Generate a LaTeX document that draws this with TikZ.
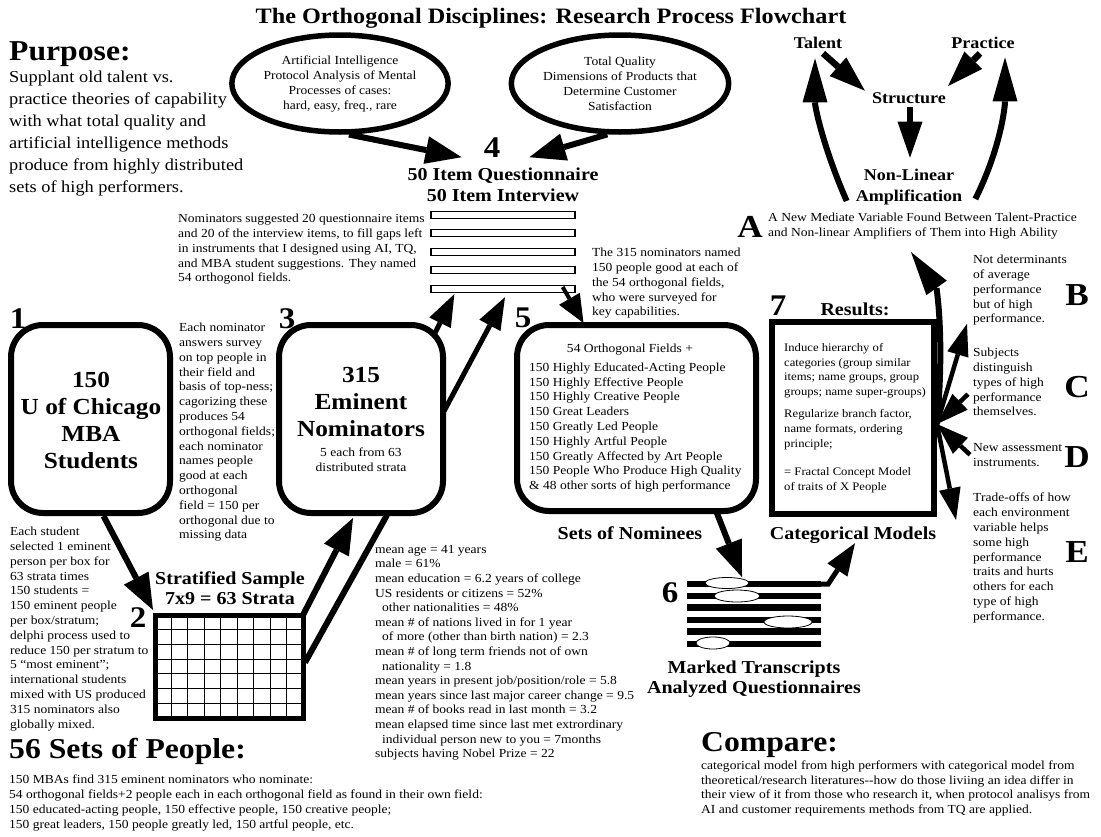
\documentclass[tikz,border=0pt]{standalone}
\usepackage{fontspec}
\setmainfont{Liberation Serif}[FakeStretch=1.1]
\usepackage{tikz}
\usetikzlibrary{shapes.geometric, arrows.meta, positioning, calc}
\tikzset{
  bodytxt/.style={inner sep=0pt, align=left, anchor=north west, font=\fontsize{12.3}{14.8}\selectfont},
  purposetxt/.style={inner sep=0pt, align=left, anchor=north west, font=\fontsize{16.7}{22}\selectfont},
  bighead/.style={inner sep=0pt, anchor=base west, font=\fontsize{28.8}{30}\selectfont\bfseries},
  sechead/.style={inner sep=0pt, align=center, anchor=north, font=\fontsize{18.2}{20.5}\selectfont\bfseries},
  stepnum/.style={inner sep=0pt, anchor=base, font=\fontsize{30}{30}\selectfont\bfseries},
  lettertag/.style={inner sep=0pt, anchor=base, font=\fontsize{32}{32}\selectfont\bfseries},
  boxtitle/.style={inner sep=0pt, align=center, anchor=north, font=\fontsize{23}{27}\selectfont\bfseries},
  modelword/.style={inner sep=0pt, anchor=base, font=\fontsize{16.4}{21}\selectfont\bfseries},
  roundbox/.style={draw, line width=6pt, rounded corners=32pt, inner sep=0pt},
  oval/.style={ellipse, draw, line width=5.5pt, minimum width=206pt, minimum height=97pt, inner sep=0pt, align=center, font=\fontsize{12.3}{15}\selectfont},
  qbar/.style={draw, line width=1.3pt, minimum width=144pt, minimum height=7pt, inner sep=0pt},
  stripe/.style={fill=black, minimum width=134pt, minimum height=6.5pt, inner sep=0pt},
  blob/.style={ellipse, draw, fill=white, line width=0.8pt, inner sep=0pt},
}

\begin{document}
\begin{tikzpicture}[x=1pt, y=-1pt,
  fatarrow/.style={line width=6pt, -{Triangle[length=36pt, width=28pt, line width=0pt]}},
  midarrow/.style={line width=5pt, -{Triangle[length=32pt, width=24pt, line width=0pt]}},
  slimarrow/.style={line width=4pt, -{Triangle[length=28pt, width=24pt, line width=0pt]}},
  shortarrow/.style={line width=6.5pt, -{Triangle[length=36pt, width=25pt, line width=0pt]}},
  curvearrow/.style={line width=6pt, -{Triangle[length=44pt, width=25pt, line width=0pt]}},
  rayarrow/.style={line width=4.5pt, -{Triangle[length=32pt, width=22pt, line width=0pt]}}]
\useasboundingbox (0,0) rectangle (1101,836);

\node[inner sep=0pt, anchor=base, font=\fontsize{22}{24}\selectfont\bfseries] (title) at (551,23) {The Orthogonal Disciplines: Research Process Flowchart};
\node[bighead] (purpose) at (9,60) {Purpose:};
\node[purposetxt] (purposenote) at (9,71) {Supplant old talent vs.\\practice theories of capability\\with what total quality and\\artificial intelligence methods\\produce from highly distributed\\sets of high performers.};

\node[oval] (ai) at (340,83.5) {Artificial Intelligence\\Protocol Analysis of Mental\\Processes of cases:\\hard, easy, freq., rare};
\node[oval] (tq) at (620,83.5) {Total Quality\\Dimensions of Products that\\Determine Customer\\Satisfaction};

\node[stepnum] (n4) at (492,157) {4};
\node[sechead] (qhead) at (503,168) {50 Item Questionnaire\\50 Item Interview};
\foreach \i/\y in {1/215, 2/233, 3/252, 4/270, 5/289}
  \node[qbar] (bar\i) at (503,\y) {};
\node[bodytxt] (nomnote) at (178,214) {Nominators suggested 20 questionnaire items\\and 20 of the interview items, to fill gaps left\\in instruments that I designed using AI, TQ,\\and MBA student suggestions. They named\\54 orthogonol fields.};

\node[stepnum] (n1) at (18,328) {1};
\node[roundbox, minimum width=159pt, minimum height=188pt] (box1) at (90.5,419) {};
\node[boxtitle] (box1txt) at (91,372) {150\\U of Chicago\\MBA\\Students};
\node[bodytxt] (studnote) at (10,527) {Each student\\selected 1 eminent\\person per box for\\63 strata times\\150 students =\\150 eminent people\\per box/stratum;\\delphi process used to\\reduce 150 per stratum to\\5 “most eminent”;\\international students\\mixed with US produced\\315 nominators also\\globally mixed.};

\node[stepnum] (n2) at (138,627) {2};
\node[sechead] (strat) at (230,571) {Stratified Sample\\7x9 = 63 Strata};
\node[draw, line width=5pt, outer sep=0pt, inner sep=0pt, minimum width=148pt, minimum height=103pt] (grid) at (229,666.5) {};
\foreach \i in {1,...,8}
  \draw[line width=1.2pt] ($(grid.north west)!\i/9!(grid.north east)$) -- ($(grid.south west)!\i/9!(grid.south east)$);
\foreach \j in {1,...,6}
  \draw[line width=1.2pt] ($(grid.north west)!\j/7!(grid.south west)$) -- ($(grid.north east)!\j/7!(grid.south east)$);

\node[stepnum] (n3) at (287,328) {3};
\node[roundbox, minimum width=164pt, minimum height=188pt] (box3) at (361,419) {};
\node[boxtitle] (box3txt) at (361,367) {315\\Eminent\\Nominators};
\node[bodytxt, anchor=north, align=center, below=11pt of box3txt] (box3sub) {5 each from 63\\distributed strata};
\node[bodytxt] (surveynote) at (179,323) {Each nominator\\answers survey\\on top people in\\their field and\\basis of top-ness;\\cagorizing these\\produces 54\\orthogonal fields;\\each nominator\\names people\\good at each\\orthogonal\\field = 150 per\\orthogonal due to\\missing data};
\node[bodytxt, font=\fontsize{12.3}{14.6}\selectfont] (stats) at (375,545) {mean age = 41 years\\male = 61\%\\mean education = 6.2 years of college\\US residents or citizens = 52\%\\\hspace*{7pt}other nationalities = 48\%\\mean \# of nations lived in for 1 year\\\hspace*{7pt}of more (other than birth nation) = 2.3\\mean \# of long term friends not of own\\\hspace*{7pt}nationality = 1.8\\mean years in present job/position/role = 5.8\\mean years since last major career change = 9.5\\mean \# of books read in last month = 3.2\\mean elapsed time since last met extrordinary\\\hspace*{7pt}individual person new to you = 7months\\subjects having Nobel Prize = 22};

\node[stepnum] (n5) at (523,327) {5};
\node[roundbox, minimum width=239pt, minimum height=186pt] (box5) at (636.5,418) {};
\node[inner sep=0pt, anchor=base, font=\fontsize{12.3}{14.8}\selectfont] (fields) at (630,352) {54 Orthogonal Fields +};
\node[bodytxt] (fieldlist) at (529,362.5) {150 Highly Educated-Acting People\\150 Highly Effective People\\150 Highly Creative People\\150 Great Leaders\\150 Greatly Led People\\150 Highly Artful People\\150 Greatly Affected by Art People\\150 People Who Produce High Quality\\\& 48 other sorts of high performance};
\node[sechead, anchor=base] (nominees) at (630,539) {Sets of Nominees};
\node[bodytxt] (namednote) at (592,248) {The 315 nominators named\\150 people good at each of\\the 54 orthogonal fields,\\who were surveyed for\\key capabilities.};

\node[stepnum] (n6) at (670,602) {6};
\foreach \i/\y in {1/584, 2/596, 3/607.5, 4/620, 5/631.5, 6/644}
  \node[stripe] (st\i) at (754,\y) {};
\node[blob, minimum width=44pt, minimum height=11pt] (tr1) at (727,583) {};
\node[blob, minimum width=46pt, minimum height=12pt] (tr2) at (737,596) {};
\node[blob, minimum width=48pt, minimum height=12pt] (tr3) at (788,622) {};
\node[blob, minimum width=34pt, minimum height=12pt] (tr4) at (713,643) {};
\node[sechead] (marked) at (754,660.5) {Marked Transcripts\\Analyzed Questionnaires};

\node[stepnum] (n7) at (778,315) {7};
\node[sechead, anchor=base] (results) at (855,315) {Results:};
\node[draw, line width=6pt, minimum width=162pt, minimum height=192pt, inner sep=0pt] (box7) at (853,418) {};
\node[bodytxt, font=\fontsize{11.5}{14.8}\selectfont] (box7txt) at (784,343) {Induce hierarchy of\\categories (group similar\\items; name groups, group\\groups; name super-groups)\\[7pt]Regularize branch factor,\\name formats, ordering\\principle;\\[14pt]= Fractal Concept Model\\of traits of X People};
\node[sechead, anchor=base] (catmod) at (853,539) {Categorical Models};

\node[modelword] (talent) at (818,48) {Talent};
\node[modelword] (practice) at (983,48) {Practice};
\node[modelword] (structure) at (909,103) {Structure};
\node[modelword, align=center, anchor=north] (nonlin) at (909,168.7) {Non-Linear\\Amplification};
\node[lettertag] (tagA) at (750,237) {A};
\node[bodytxt, font=\fontsize{12.3}{14.5}\selectfont] (anote) at (768,213) {A New Mediate Variable Found Between Talent-Practice\\and Non-linear Amplifiers of Them into High Ability};

\node[lettertag] (tagB) at (1077,305) {B};
\node[lettertag] (tagC) at (1077,397) {C};
\node[lettertag] (tagD) at (1077,467) {D};
\node[lettertag] (tagE) at (1077,562) {E};
\node[bodytxt] (bnote) at (973,255) {Not determinants\\of average\\performance\\but of high\\performance.};
\node[bodytxt] (cnote) at (973,348) {Subjects\\distinguish\\types of high\\performance\\themselves.};
\node[bodytxt] (dnote) at (973,443) {New assessment\\instruments.};
\node[bodytxt] (enote) at (973,493) {Trade-offs of how\\each environment\\variable helps\\some high\\performance\\traits and hurts\\others for each\\type of high\\performance.};

\node[bighead] (sets56) at (9,758) {56 Sets of People:};
\node[bodytxt, font=\fontsize{12.3}{15}\selectfont] (setsnote) at (9,775) {150 MBAs find 315 eminent nominators who nominate:\\54 orthogonal fields+2 people each in each orthogonal field as found in their own field:\\150 educated-acting people, 150 effective people, 150 creative people;\\150 great leaders, 150 people greatly led, 150 artful people, etc.};
\node[bighead] (compare) at (701,751) {Compare:};
\node[bodytxt, font=\fontsize{12.3}{14.4}\selectfont] (comparenote) at (701,761) {categorical model from high performers with categorical model from\\theoretical/research literatures-{}-how do those liviing an idea differ in\\their view of it from those who research it, when protocol analisys from\\AI and customer requirements methods from TQ are applied.};

\draw[fatarrow] (ai.-80) -- ($(n4.south west)+(-22,0)$);
\draw[fatarrow] (tq.-104) -- ($(n4.south east)+(29,0)$);
\draw[fatarrow] ($(box1.south)+(13,0)$) -- ($(grid.north west)+(-2,-5)$);
\draw[fatarrow] (grid.north east) -- ($(box3.south)+(-8,2)$);
\draw[line width=6pt] ($(box3.south)+(26,-1)$) -- ($(grid.east)+(2,-4)$);
\draw[midarrow] ($(box3.north east)+(-12,13)$) -- ($(bar5.south west)+(24,1)$);
\draw[midarrow] ($(box3.east)+(-3,-6)$) -- ($(bar5.south)+(2,4)$);
\draw[slimarrow] ($(bar5.east)+(-13,-2)$) -- ($(box5.north)+(-53,1)$);
\draw[fatarrow] ($(box5.south)+(80,-2)$) -- ($(tr1.north)+(15,0)$);
\draw[midarrow] (st1.east) -- ++(7,0) -- ($(catmod.south)+(2,0)$);

\draw[shortarrow] ($(talent.south)+(5,5)$) -- ($(structure.west)+(-7,-7)$);
\draw[shortarrow] ($(practice.south)+(-3,5)$) -- ($(structure.north east)+(2,-6)$);
\draw[shortarrow] ($(structure.south)+(1,4)$) -- ($(nonlin.north)+(1,-11)$);
\draw[curvearrow] ($(nonlin.south west)+(-9,-4)$) .. controls +(-22,-50) and +(0,50) .. ($(talent.south)+(-3,10)$);
\draw[curvearrow] ($(nonlin.south east)+(13,-6)$) .. controls +(25,-50) and +(0,50) .. ($(practice.south)+(22,9)$);

\coordinate (junc) at ($(box7.east)+(0,6)$);
\draw[curvearrow] (junc) .. controls +(8,-90) and +(25,35) .. ($(anote.south west)+(143,13)$);
\draw[rayarrow] (junc) -- ($(bnote.south west)+(-6,-2)$);
\draw[rayarrow] ($(cnote.west)+(-5,12)$) -- (junc);
\draw[rayarrow] ($(dnote.west)+(-3,0)$) -- (junc);
\draw[rayarrow] (junc) -- ($(enote.north west)+(-17,27)$);
\end{tikzpicture}
\end{document}
